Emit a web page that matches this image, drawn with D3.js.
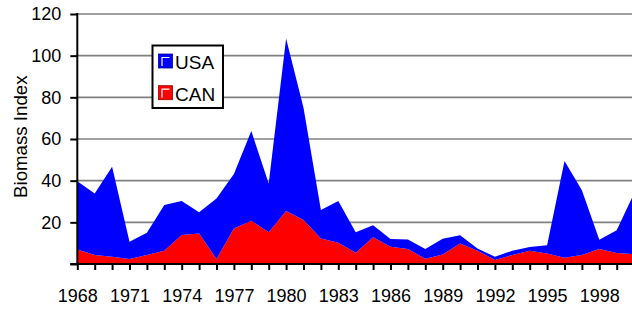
<!DOCTYPE html>
<html>
<head>
<meta charset="utf-8">
<script src="https://cdn.jsdelivr.net/npm/d3@7"></script>
<style>
  body { margin: 0; background: #fff; }
  svg { display: block; font-family: "Liberation Sans", Arial, sans-serif; }
  .axis path, .axis line { stroke: #000; stroke-width: 2; }
  .axis text { fill: #000; font-size: 18px; }
</style>
</head>
<body>
<div id="chart"></div>
<script>
// values
const years = d3.range(1968, 2001)
const can = [7, 4.3, 3.5, 2.4, 4.3, 6.4, 13.9, 14.7, 2.4, 17.1, 20.8, 15.2, 25.4, 21.1, 12.3, 10.2, 5.4,
  12.8, 8.3, 7.2, 2.5, 4.6, 9.9, 6.4, 1.9, 4.3, 6.4, 5, 3, 4.3, 7.2, 5.3, 4.7]
const usa = [32.7, 29.6, 43.2, 8.3, 10.7, 21.9, 16.3, 10.1, 29.1, 26.1, 43, 23.5, 82.9, 53.9, 13.6, 20, 9.8,
  5.8, 3.7, 4.6, 4.7, 7.5, 3.9, 1.1, 1.6, 2.1, 1.8, 4, 46.5, 31.1, 4.5, 10.9, 29.3]
const seriesNames = ['CAN', 'USA']
const seriesColors = { USA: '#0000ff', CAN: '#ff0000' }
const legendOrder = ['USA', 'CAN']
const yTicks = [0, 20, 40, 60, 80, 100, 120]
const xLabelYears = d3.range(1968, 1999, 3)

const width = 632
const height = 311

let table = years.map((yr, i) => ({ year: yr, CAN: can[i], USA: usa[i] }))
let stacked = d3.stack().keys(seriesNames)(table)

let x = d3.scaleLinear().domain([1968, 2000]).range([77.3, 634.1])
let y = d3.scaleLinear().domain([0, 120]).range([264, 14])

let svg = d3.select('#chart').append('svg')
  .attr('width', width)
  .attr('height', height)

// gridlines
svg.append('g')
  .selectAll('line')
  .data(yTicks.filter(t => t > 0))
  .enter().append('line')
  .attr('x1', x(1968))
  .attr('x2', width)
  .attr('y1', d => y(d))
  .attr('y2', d => y(d))
  .attr('stroke', '#808080')
  .attr('stroke-width', 1.6)

let area = d3.area()
  .x(d => x(d.data.year))
  .y0(d => y(d[0]))
  .y1(d => y(d[1]))

svg.append('g')
  .selectAll('path')
  .data(stacked)
  .enter().append('path')
  .attr('d', area)
  .attr('fill', d => seriesColors[d.key])

// y axis
svg.append('g')
  .attr('class', 'axis')
  .attr('transform', `translate(${x(1968)},0)`)
  .call(d3.axisLeft(y).tickValues(yTicks).tickSize(7).tickPadding(9)
    .tickFormat(d => d === 0 ? '' : d))
  .call(g => g.select('.domain').attr('d', `M0,${y(120) - 1}V${y(0)}`))

// x axis: a tick every year, labels every third year
svg.append('g')
  .attr('class', 'axis')
  .attr('transform', `translate(0,${y(0)})`)
  .call(d3.axisBottom(x).tickValues(years).tickSize(6).tickFormat(''))
  .call(g => g.select('.domain').attr('d', `M${x(1968) - 7},0H${width}`))

svg.append('g')
  .attr('class', 'axis')
  .attr('transform', `translate(0,${y(0)})`)
  .call(d3.axisBottom(x).tickValues(xLabelYears).tickSize(0).tickPadding(25.3).tickFormat(d3.format('d')))
  .call(g => g.select('.domain').remove())

svg.append('text')
  .attr('transform', `translate(26.5,136.7) rotate(-90)`)
  .attr('text-anchor', 'middle')
  .attr('font-size', 18.7)
  .text('Biomass Index')

// legend
let legend = svg.append('g').attr('transform', 'translate(152.5,45.5)')
legend.append('rect')
  .attr('width', 70.5)
  .attr('height', 62.5)
  .attr('fill', '#fff')
  .attr('stroke', '#000')
  .attr('stroke-width', 2)

let item = legend.selectAll('.item')
  .data(legendOrder)
  .enter().append('g')
  .attr('class', 'item')
  .attr('transform', (d, i) => `translate(6,${8.5 + i * 31.7})`)

item.append('rect')
  .attr('width', 14)
  .attr('height', 14)
  .attr('fill', d => seriesColors[d])
  .attr('stroke', d => d3.color(seriesColors[d]).darker(1.5))
  .attr('stroke-width', 0.8)

item.append('path')
  .attr('d', 'M3.5,12V3.5H11')
  .attr('fill', 'none')
  .attr('stroke', '#fff')
  .attr('stroke-width', 1.2)

item.append('text')
  .attr('x', 16.5)
  .attr('y', 15.3)
  .attr('font-size', 19)
  .text(d => d)
</script>
</body>
</html>
